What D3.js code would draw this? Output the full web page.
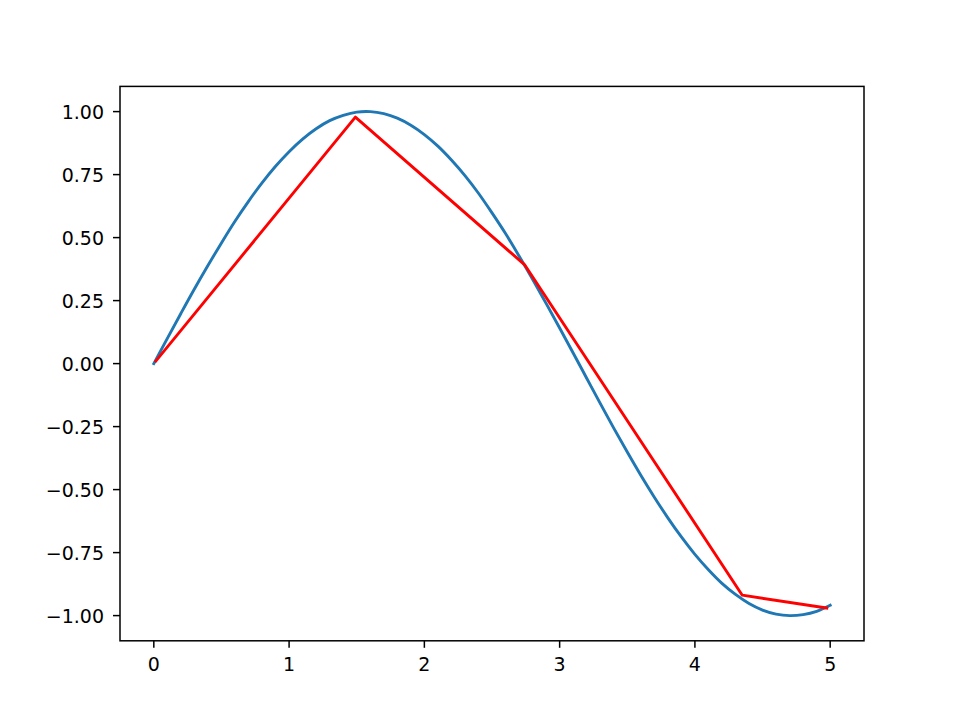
<!DOCTYPE html>
<html>
<head>
<meta charset="utf-8">
<script src="https://cdn.jsdelivr.net/npm/d3@7"></script>
<style>
  html, body { margin: 0; padding: 0; background: #fff; }
  svg { display: block; }
</style>
</head>
<body>
<svg id="chart" width="960" height="721"></svg>
<script>
// Blue curve: values at x step 0.1
const curveX = [0.0,0.1,0.2,0.3,0.4,0.5,0.6,0.7,0.8,0.9,1.0,1.1,1.2,1.3,1.4,1.5,1.6,1.7,1.8,1.9,2.0,2.1,2.2,2.3,2.4,2.5,2.6,2.7,2.8,2.9,3.0,3.1,3.2,3.3,3.4,3.5,3.6,3.7,3.8,3.9,4.0,4.1,4.2,4.3,4.4,4.5,4.6,4.7,4.8,4.9,5.0];
const curveY = [0.000,0.100,0.199,0.296,0.389,0.479,0.565,0.644,0.717,0.783,0.841,0.891,0.932,0.964,0.985,0.998,1.000,0.992,0.974,0.946,0.909,0.863,0.808,0.746,0.676,0.598,0.516,0.427,0.335,0.239,0.141,0.042,-0.058,-0.158,-0.256,-0.351,-0.443,-0.530,-0.612,-0.688,-0.757,-0.818,-0.872,-0.916,-0.952,-0.978,-0.994,-1.000,-0.996,-0.983,-0.959];
// Red polyline points
const redX = [0.015, 1.49, 2.74, 4.35, 4.975];
const redY = [0.010, 0.978, 0.393, -0.919, -0.970];
// Ticks
const xTicks = [0, 1, 2, 3, 4, 5];
const yTicks = [-1.00, -0.75, -0.50, -0.25, 0.00, 0.25, 0.50, 0.75, 1.00];

const svg = d3.select("#chart");
const L = 120, R = 864, T = 86.4, B = 640.8;
const x = d3.scaleLinear().domain([-0.25, 5.25]).range([L, R]);
const y = d3.scaleLinear().domain([-1.1, 1.1]).range([B, T]);

const fmt = v => (v < 0 ? "\u2212" : "") + Math.abs(v).toFixed(2);
const font = "DejaVu Sans, sans-serif";

const g = svg.append("g");

const smooth = d3.line().curve(d3.curveCatmullRom).x(d => x(d[0])).y(d => y(d[1]));
const line = d3.line().x(d => x(d[0])).y(d => y(d[1]));
g.append("path")
  .attr("d", smooth(curveX.map((v, i) => [v, curveY[i]])))
  .attr("fill", "none").attr("stroke", "#1f77b4").attr("stroke-width", 2.9)
  .attr("stroke-linejoin", "round").attr("stroke-linecap", "square");
g.append("path")
  .attr("d", line(redX.map((v, i) => [v, redY[i]])))
  .attr("fill", "none").attr("stroke", "#ff0000").attr("stroke-width", 2.9)
  .attr("stroke-linejoin", "round").attr("stroke-linecap", "square");

// Spines
g.append("rect").attr("x", L).attr("y", T).attr("width", R - L).attr("height", B - T)
  .attr("fill", "none").attr("stroke", "#000").attr("stroke-width", 1.5);

// X ticks
xTicks.forEach(v => {
  g.append("line").attr("x1", x(v)).attr("x2", x(v)).attr("y1", B).attr("y2", B + 7)
    .attr("stroke", "#000").attr("stroke-width", 1.5);
  g.append("text").attr("x", x(v)).attr("y", B + 30).attr("text-anchor", "middle")
    .attr("font-family", font).attr("font-size", "19px").attr("fill", "#000").text(String(v));
});
// Y ticks
yTicks.forEach(v => {
  g.append("line").attr("x1", L - 7).attr("x2", L).attr("y1", y(v)).attr("y2", y(v))
    .attr("stroke", "#000").attr("stroke-width", 1.5);
  g.append("text").attr("x", L - 16).attr("y", y(v) + 7).attr("text-anchor", "end")
    .attr("font-family", font).attr("font-size", "19px").attr("fill", "#000").text(fmt(v));
});
</script>
</body>
</html>
